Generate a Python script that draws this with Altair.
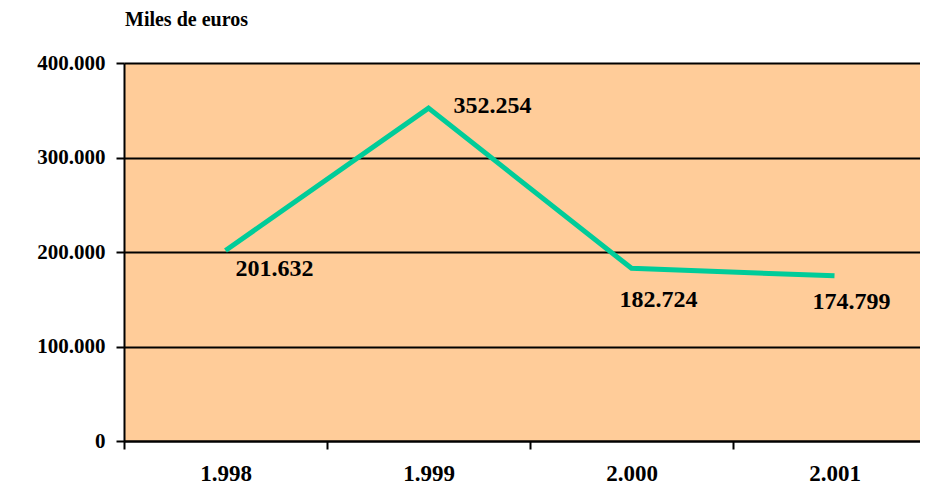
import altair as alt
import pandas as pd

years = ["1.998", "1.999", "2.000", "2.001"]
values = [201632, 352254, 182724, 174799]
value_labels = ["201.632", "352.254", "182.724", "174.799"]
y_ticks = [0, 100000, 200000, 300000, 400000]
title_text = "Miles de euros"

FONT = "Liberation Serif"
BG = "#FFCC99"
LINE = "#00CC99"

df = pd.DataFrame({"year": years, "value": values, "label": value_labels})

x_enc = alt.X(
    "year:N", sort=years, bandPosition=0.5,
    scale=alt.Scale(type="band", range=[0, 812], paddingInner=0, paddingOuter=0),
    axis=alt.Axis(title=None, labelAngle=0, tickBand="extent", grid=False,
                  domainColor="black", domainWidth=2, tickColor="black",
                  tickWidth=2, tickSize=8, labelFont=FONT, labelFontSize=23,
                  labelFontWeight="bold", labelColor="black", labelPadding=13),
)
y_enc = alt.Y(
    "value:Q", scale=alt.Scale(domain=[0, 400000], nice=False),
    axis=alt.Axis(title=None, values=y_ticks,
                  labelExpr="datum.value == 0 ? '0' : format(datum.value / 1000, 'd') + '.000'",
                  grid=True, gridColor="black", gridWidth=2,
                  domainColor="black", domainWidth=2, tickColor="black",
                  tickWidth=2, tickSize=8, labelFont=FONT, labelFontSize=21,
                  labelFontWeight="bold", labelColor="black", labelPadding=11),
)

base = alt.Chart(df)
line = base.mark_line(color=LINE, strokeWidth=5).encode(x=x_enc, y=y_enc)

offsets = [(49, 19), (64, -2), (27, 32), (17, 26)]
texts = []
for yr, (dx, dy) in zip(years, offsets):
    texts.append(
        base.transform_filter(alt.datum.year == yr)
        .mark_text(font=FONT, fontSize=24, fontWeight="bold", color="black",
                   align="center", baseline="middle", dx=dx, dy=dy)
        .encode(x=x_enc, y=y_enc, text="label:N")
    )

title = alt.Chart(pd.DataFrame({"t": [title_text]})).mark_text(
    font=FONT, fontSize=20, fontWeight="bold", color="black",
    align="left", baseline="middle"
).encode(x=alt.value(1), y=alt.value(-43), text="t:N")

chart = alt.layer(line, *texts, title).properties(
    width=796, height=378,
    autosize=alt.AutoSizeParams(type="none"),
    padding={"left": 116, "top": 55, "right": 0, "bottom": 44},
    background="white",
).configure_view(fill=BG, stroke=None)

chart.save("out.html", embed_options={"renderer": "svg", "actions": False})
